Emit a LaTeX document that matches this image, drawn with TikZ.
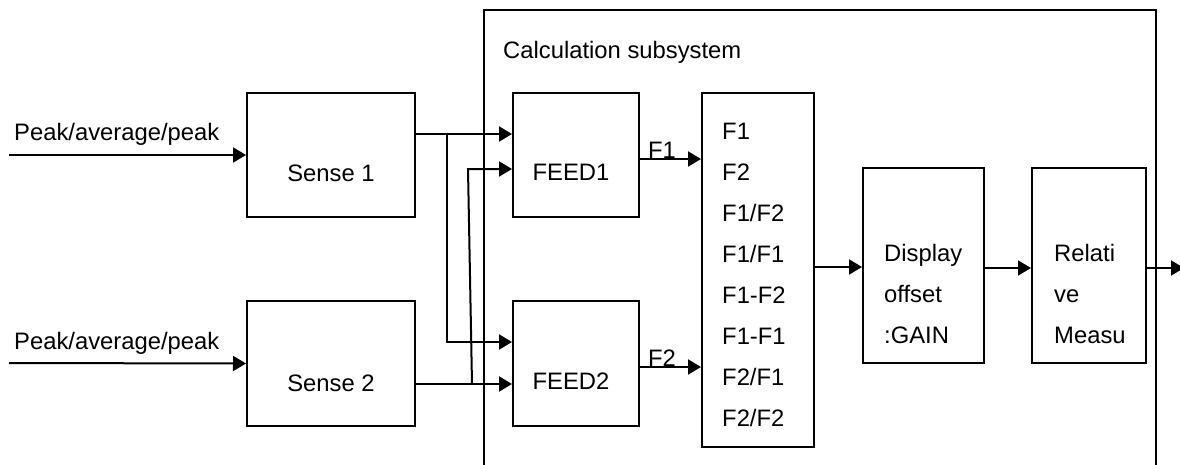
\documentclass[tikz,border=0pt]{standalone}
\usepackage{fontspec}
\setmainfont{Liberation Sans}
\usetikzlibrary{arrows.meta}
\begin{document}
\begin{tikzpicture}[x=1pt,y=-1pt,
  box/.style={draw,line width=2pt,rectangle,inner sep=0pt},
  arr/.style={line width=2pt,-{Triangle[length=13pt,width=15pt]}},
  ln/.style={line width=2pt},
  txt/.style={inner sep=0pt,font=\fontsize{23.8}{28}\selectfont},
  every node/.style={inner sep=0pt}]
\useasboundingbox (0,0) rectangle (1180,464);
% big box (open bottom)
\coordinate (bbl) at (484,470);
\coordinate (bbr) at (1156,470);
\draw[ln] (bbl) -- (484,10) -- (1156,10) -- (bbr);
\node[txt,anchor=base west] (calc) at (503,58) {Calculation subsystem};
% boxes
\node[box,minimum width=168pt,minimum height=124pt] (s1) at (331,155) {};
\node[box,minimum width=168pt,minimum height=125pt] (s2) at (331,363.5) {};
\node[box,minimum width=126pt,minimum height=124pt] (f1) at (576,155) {};
\node[box,minimum width=126pt,minimum height=125pt] (f2) at (576,363.5) {};
\node[box,minimum width=112pt,minimum height=354pt] (fl) at (758,270) {};
\node[box,minimum width=121pt,minimum height=195pt] (dp) at (923.5,265.5) {};
\node[box,minimum width=114pt,minimum height=195pt] (rl) at (1089,265.5) {};
% texts
\node[txt,anchor=base] (s1t) at (331,181) {Sense 1};
\node[txt,anchor=base] (s2t) at (331,391) {Sense 2};
\node[txt,anchor=base] (f1t) at (571,180) {FEED1};
\node[txt,anchor=base] (f2t) at (571,389) {FEED2};
\node[txt,anchor=base west] (p1) at (14,140) {Peak/average/peak};
\node[txt,anchor=base west] (p2) at (14,349) {Peak/average/peak};
\foreach \t [count=\i from 0] in {F1,F2,F1/F2,F1/F1,F1-F2,F1-F1,F2/F1,F2/F2}
  \node[txt,anchor=base west] (fl\i) at (722,{139.5+41*\i}) {\t};
\node[txt,anchor=base west] (d1) at (884,261) {Display};
\node[txt,anchor=base west] (d2) at (884,302) {offset};
\node[txt,anchor=base west] (d3) at (884,343) {:GAIN};
\node[txt,anchor=base west] (r1) at (1054,261) {Relati};
\node[txt,anchor=base west] (r2) at (1054,302) {ve};
\node[txt,anchor=base west] (r3) at (1054,343) {Measu};
% inputs
\coordinate (in1) at (9,155);
\coordinate (in2) at (9,363);
\draw[arr] (in1) -- (s1.west);
\draw[arr] (in2) -- (s2.west);
% sense outputs and cross-feeds
\coordinate (b1) at (447,134);
\coordinate (b2) at (472,384);
\draw[arr] (s1.east |- b1) -- (f1.west |- b1);
\draw[arr] (b1) -- (447,342) -- (f2.west |- 0,342);
\draw[arr] (s2.east |- b2) -- (f2.west |- b2);
\draw[arr] (b2) -- (468,169) -- (f1.west |- 0,169);
% feed outputs
\draw[arr] (f1.east |- 0,159) -- (fl.west |- 0,159);
\node[txt,anchor=base] (l1) at (662,158) {F1};
\draw[arr] (f2.east |- 0,367) -- (fl.west |- 0,367);
\node[txt,anchor=base] (l2) at (662,366) {F2};
% chain
\draw[arr] (fl.east |- 0,267) -- (dp.west |- 0,267);
\draw[arr] (dp.east |- 0,268) -- (rl.west |- 0,268);
\coordinate (out) at (1184,268);
\draw[arr] (rl.east |- out) -- (out);
\end{tikzpicture}
\end{document}
